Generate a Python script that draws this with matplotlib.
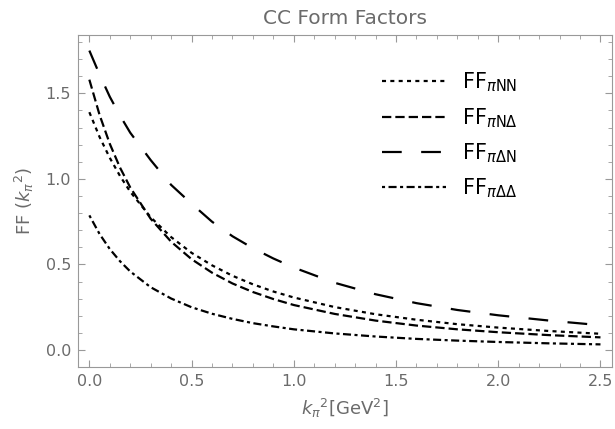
import numpy as np
import matplotlib
matplotlib.use("Agg")
import matplotlib.pyplot as plt

# values
k2 = [0.0, 0.05, 0.1, 0.15, 0.2, 0.3, 0.4, 0.5, 0.6, 0.7, 0.8, 0.9, 1.0,
      1.2, 1.4, 1.6, 1.8, 2.0, 2.25, 2.5]
ff_piNN = [1.39, 1.245, 1.123, 1.017, 0.925, 0.776, 0.660, 0.568, 0.495, 0.434,
           0.384, 0.342, 0.307, 0.251, 0.209, 0.177, 0.151, 0.131, 0.111, 0.095]
ff_piND = [1.58, 1.374, 1.205, 1.066, 0.950, 0.767, 0.633, 0.531, 0.452, 0.389,
           0.339, 0.298, 0.263, 0.211, 0.172, 0.143, 0.121, 0.104, 0.087, 0.074]
ff_piDN = [1.75, 1.61, 1.48, 1.37, 1.27, 1.11, 0.965, 0.855, 0.75, 0.665,
           0.595, 0.535, 0.482, 0.393, 0.326, 0.274, 0.234, 0.203, 0.172, 0.145]
ff_piDD = [0.787, 0.678, 0.590, 0.519, 0.459, 0.367, 0.301, 0.250, 0.212, 0.182,
           0.157, 0.138, 0.121, 0.097, 0.079, 0.065, 0.055, 0.047, 0.039, 0.033]

labels = [r"FF$_{\pi\mathrm{NN}}$", r"FF$_{\pi\mathrm{N}\Delta}$",
          r"FF$_{\pi\Delta\mathrm{N}}$", r"FF$_{\pi\Delta\Delta}$"]

plt.rcParams["lines.scale_dashes"] = False
gray = "#6b6b6b"
frame = "#999999"

fig = plt.figure(figsize=(6.15, 4.29), dpi=100)
ax = fig.add_axes([0.127, 0.145, 0.868, 0.773])

lw = 1.6
ax.plot(k2, ff_piNN, color="black", lw=lw, dashes=(2.9, 3.1), label=labels[0])
ax.plot(k2, ff_piND, color="black", lw=lw, dashes=(6.7, 2.9), label=labels[1])
ax.plot(k2, ff_piDN, color="black", lw=lw, dashes=(14.2, 14.0), label=labels[2])
ax.plot(k2, ff_piDD, color="black", lw=lw, dashes=(2.2, 2.5, 5.8, 2.5), label=labels[3])

ax.set_xlim(-0.055, 2.556)
ax.set_ylim(-0.098, 1.84)
ax.set_xticks(np.arange(0, 2.51, 0.5))
ax.set_xticks(np.arange(0, 2.56, 0.1), minor=True)
ax.set_yticks(np.arange(0, 1.51, 0.5))
ax.set_yticks(np.arange(0, 1.81, 0.1), minor=True)

for sp in ax.spines.values():
    sp.set_color(frame)
ax.tick_params(which="both", direction="in", top=True, right=True,
               color=frame, labelcolor=gray, labelsize=11.5)
ax.tick_params(which="major", length=5, pad=5)
ax.tick_params(which="minor", length=3)

ax.set_title("CC Form Factors", color=gray, fontsize=14.5, pad=8)
ax.set_xlabel(r"$k_\pi{}^2$[GeV$^2$]", color=gray, fontsize=13, labelpad=6)
ax.set_ylabel(r"FF $(k_\pi{}^2)$", color=gray, fontsize=13, labelpad=7)

ax.legend(loc="upper left", bbox_to_anchor=(0.569, 0.893), frameon=False,
          fontsize=15, handlelength=3.07, handletextpad=0.77, labelspacing=0.56,
          borderpad=0, borderaxespad=0)

fig.savefig("out.png", dpi=100)
